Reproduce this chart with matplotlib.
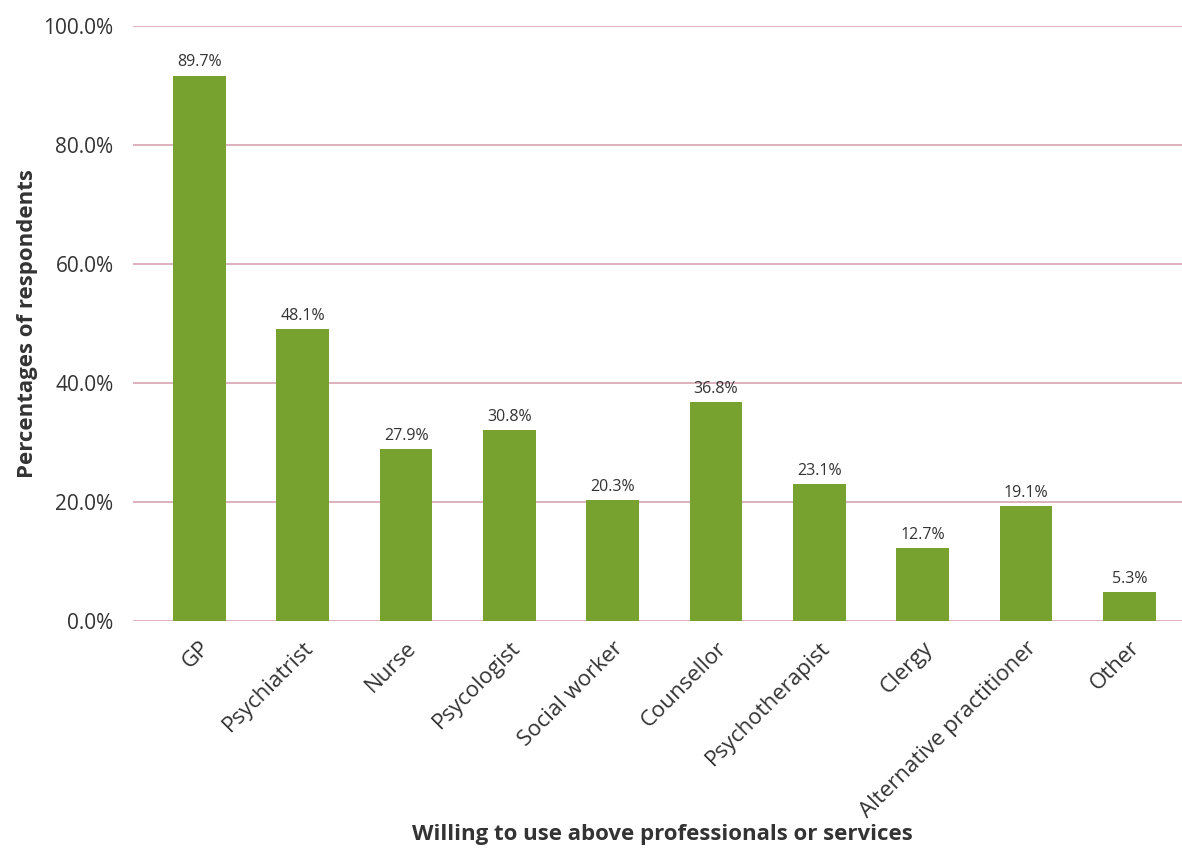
import matplotlib
matplotlib.use('Agg')
import matplotlib.pyplot as plt

plt.rcParams['font.family'] = ['Open Sans', 'DejaVu Sans']

categories = ['GP', 'Psychiatrist', 'Nurse', 'Psycologist', 'Social worker',
              'Counsellor', 'Psychotherapist', 'Clergy', 'Alternative practitioner', 'Other']
# bar heights as drawn in the picture
values = [91.6, 49.0, 28.8, 32.0, 20.3, 36.7, 23.0, 12.2, 19.2, 4.8]
# value labels as printed above the bars
value_labels = ['89.7%', '48.1%', '27.9%', '30.8%', '20.3%',
                '36.8%', '23.1%', '12.7%', '19.1%', '5.3%']
yticks = [0, 20, 40, 60, 80, 100]

bar_color = '#78a22f'
grid_color = '#d8a4b0'
text_color = '#333333'

fig = plt.figure(figsize=(11.82, 8.55), dpi=100)
ax = fig.add_axes([0.1125, 0.274, 0.8875, 0.696])

x = range(len(categories))
bars = ax.bar(x, values, width=0.51, color=bar_color, zorder=2)

for b, lab in zip(bars, value_labels):
    ax.text(b.get_x() + b.get_width() / 2, b.get_height() + 0.9, lab,
            ha='center', va='bottom', fontsize=11.5, color=text_color)

ax.set_ylim(0, 100)
ax.set_xlim(-0.644, 9.51)
ax.set_yticks(yticks)
ax.set_yticklabels([f'{t:.1f}%' for t in yticks], fontsize=15, color=text_color)
ax.set_xticks(list(x))
ax.set_xticklabels(categories, rotation=45, ha='right', rotation_mode='anchor',
                   fontsize=16, color=text_color)
ax.tick_params(axis='both', length=0)
ax.tick_params(axis='y', pad=14)
ax.tick_params(axis='x', pad=12)

ax.yaxis.grid(True, color=grid_color, linewidth=1.2, zorder=0)
for s in ax.spines.values():
    s.set_visible(False)

ax.set_ylabel('Percentages of respondents', fontsize=16, fontweight='bold',
              color=text_color, labelpad=4)
ax.set_xlabel('Willing to use above professionals or services', fontsize=16,
              fontweight='bold', color=text_color)
ax.xaxis.set_label_coords(0.505, -0.342)

fig.savefig('out.png', dpi=100)
